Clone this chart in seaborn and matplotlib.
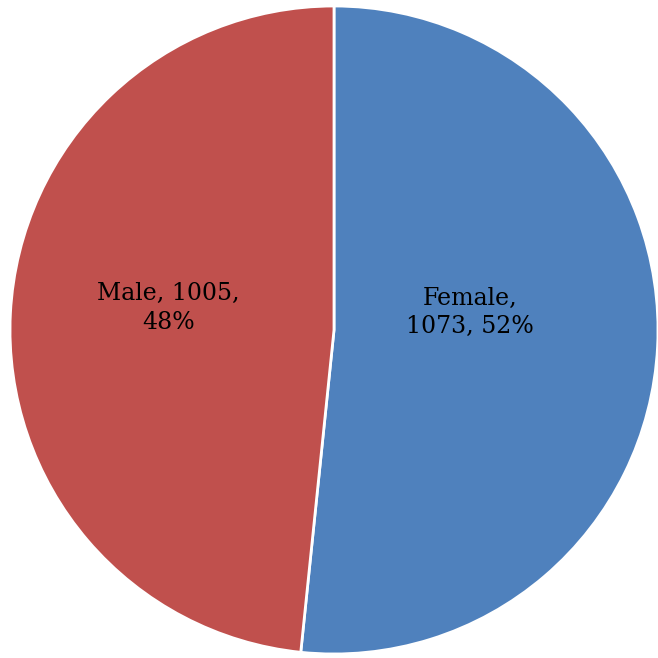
import matplotlib
matplotlib.use("Agg")
import matplotlib.pyplot as plt
import seaborn as sns

categories = ["Female", "Male"]
counts = [1073, 1005]
colors = ["#4F81BD", "#C0504D"]

sns.set_theme(style="white")
plt.rcParams["font.family"] = ["DejaVu Serif"]

fig = plt.figure(figsize=(6.58, 6.58), dpi=100)
fig.patch.set_facecolor("white")
ax = fig.add_axes([10 / 658, 4 / 658, 648 / 658, 648 / 658])

total = sum(counts)
wedges, _ = ax.pie(
    counts,
    colors=colors,
    startangle=90,
    counterclock=False,
    radius=1.0,
    wedgeprops=dict(edgecolor="white", linewidth=2),
)

label_pos = {"Female": (0.42, 0.055), "Male": (-0.512, 0.068)}
label_text = {
    "Female": "Female,\n{c}, {p:.0f}%",
    "Male": "Male, {c},\n{p:.0f}%",
}
for cat, c in zip(categories, counts):
    x, y = label_pos[cat]
    ax.text(x, y, label_text[cat].format(c=c, p=100 * c / total),
            ha="center", va="center", fontsize=17, color="black",
            linespacing=1.3)

ax.set_xlim(-1, 1)
ax.set_ylim(-1, 1)
ax.set_aspect("equal")
ax.axis("off")

fig.savefig("out.png", dpi=100, facecolor="white")
